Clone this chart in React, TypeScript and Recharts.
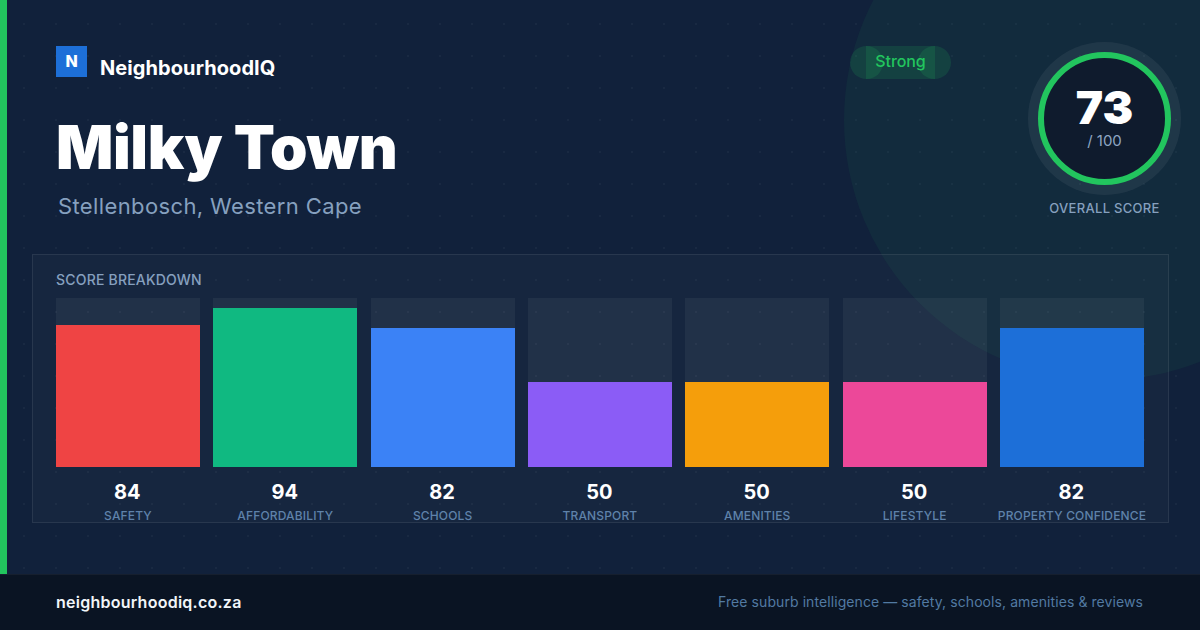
import React from "react";
import { BarChart, Bar, XAxis, YAxis, Cell } from "recharts";

const categories = ["SAFETY", "AFFORDABILITY", "SCHOOLS", "TRANSPORT", "AMENITIES", "LIFESTYLE", "PROPERTY CONFIDENCE"];
const scores = [84, 94, 82, 50, 50, 50, 82];
const barColors = ["#ef4444", "#10b981", "#3b82f6", "#8b5cf6", "#f59e0b", "#ec4899", "#1d6fd8"];
const chartData = categories.map((name, i) => ({ name, score: scores[i] }));

const font = "Inter, sans-serif";

const abs = (left: number, top: number, extra: React.CSSProperties = {}): React.CSSProperties => ({
  position: "absolute",
  left,
  top,
  whiteSpace: "nowrap",
  fontFamily: font,
  ...extra,
});

function ScoreTick({ x, y, payload, index }: any) {
  return (
    <g>
      <text x={x - 0.3} y={y + 26} textAnchor="middle" fill="#ffffff" fontFamily={font} fontSize={20} fontWeight={700}>
        {scores[index]}
      </text>
      <text x={x + 0.3} y={y + 47} textAnchor="middle" fill="#5f82aa" fontFamily={font} fontSize={12} fontWeight={500} letterSpacing={0.16}>
        {payload.value}
      </text>
    </g>
  );
}

export default function App() {
  return (
    <div
      style={{
        position: "fixed",
        left: 0,
        top: 0,
        width: 1200,
        height: 630,
        overflow: "hidden",
        backgroundColor: "#11213b",
        backgroundImage: "radial-gradient(circle at 24px 24px, rgba(255,255,255,0.035) 1.2px, transparent 1.6px)",
        backgroundSize: "32px 32px",
      }}
    >
      <div style={{ position: "absolute", left: 844, top: -140, width: 520, height: 520, borderRadius: "50%", background: "rgba(34,197,94,0.06)" }} />
      <div style={{ position: "absolute", left: 0, top: 0, width: 7, height: 630, background: "#22c55e" }} />

      <div style={abs(56, 46, { width: 31, height: 31, background: "#1d6fd8", color: "#fff", fontSize: 16, fontWeight: 800, textAlign: "center", lineHeight: "31px" })}>N</div>
      <div style={abs(100, 54, { color: "#fff", fontSize: 20, fontWeight: 700, lineHeight: "28px", letterSpacing: 0.08 })}>NeighbourhoodIQ</div>
      <div style={abs(56, 109, { color: "#fff", fontSize: 60, fontWeight: 900, lineHeight: "76px", letterSpacing: -0.4 })}>Milky Town</div>
      <div style={abs(58, 191, { color: "#86a0bf", fontSize: 22, fontWeight: 400, lineHeight: "30px", letterSpacing: 0.38 })}>Stellenbosch, Western Cape</div>

      <div style={{ position: "absolute", left: 850, top: 46, width: 33, height: 33, borderRadius: "50%", background: "rgba(34,197,94,0.15)" }} />
      <div style={{ position: "absolute", left: 918, top: 46, width: 33, height: 33, borderRadius: "50%", background: "rgba(34,197,94,0.15)" }} />
      <div style={{ position: "absolute", left: 866, top: 46, width: 69, height: 33, background: "rgba(34,197,94,0.15)" }} />
      <div style={abs(850, 46, { width: 101, height: 33, lineHeight: "31px", textAlign: "center", color: "#22c55e", fontSize: 16, fontWeight: 500, letterSpacing: -0.1 })}>Strong</div>

      <div style={{ position: "absolute", left: 1028, top: 42, width: 153, height: 153, borderRadius: "50%", background: "rgba(255,255,255,0.06)" }} />
      <div style={{ position: "absolute", left: 1038, top: 52, width: 133, height: 133, borderRadius: "50%", boxSizing: "border-box", border: "6px solid #22c55e", background: "#0f1b2d" }} />
      <div style={abs(1024, 87, { width: 161, textAlign: "center", color: "#fff", fontSize: 46, fontWeight: 900, lineHeight: "40px" })}>73</div>
      <div style={abs(1024, 131, { width: 161, textAlign: "center", color: "#8ea6c2", fontSize: 15, lineHeight: "20px" })}>/ 100</div>
      <div style={abs(1024, 199, { width: 161, textAlign: "center", color: "#86a0bf", fontSize: 13, fontWeight: 500, lineHeight: "18px", letterSpacing: 0.3 })}>OVERALL SCORE</div>

      <div style={{ position: "absolute", left: 32, top: 254, width: 1137, height: 269, boxSizing: "border-box", border: "1px solid rgba(255,255,255,0.08)", background: "rgba(255,255,255,0.025)" }} />
      <div style={abs(56, 271, { color: "#86a0bf", fontSize: 14, fontWeight: 500, lineHeight: "18px", letterSpacing: 0.2 })}>SCORE BREAKDOWN</div>

      <div style={{ position: "absolute", left: 49, top: 298 }}>
        <BarChart width={1101.33} height={232} data={chartData} margin={{ top: 0, right: 0, bottom: 0, left: 0 }} barCategoryGap={0}>
          <YAxis hide domain={[0, 100]} />
          <XAxis dataKey="name" axisLine={false} tickLine={false} height={63.1} interval={0} tick={ScoreTick} tickMargin={0} />
          <Bar dataKey="score" barSize={144} isAnimationActive={false} shapeRendering="crispEdges" background={{ fill: "rgba(255,255,255,0.05)", shapeRendering: "crispEdges" }}>
            {chartData.map((d, i) => (
              <Cell key={d.name} fill={barColors[i]} shapeRendering="crispEdges" />
            ))}
          </Bar>
        </BarChart>
      </div>

      <div style={{ position: "absolute", left: 0, top: 574, width: 1200, height: 56, boxSizing: "border-box", borderTop: "1px solid rgba(255,255,255,0.05)", background: "#0a1423" }} />
      <div style={abs(56, 592, { color: "#f1f5f9", fontSize: 16, fontWeight: 600, lineHeight: "20px", letterSpacing: 0.25 })}>neighbourhoodiq.co.za</div>
      <div style={{ ...abs(0, 592, { color: "#527aa2", fontSize: 14, lineHeight: "20px", letterSpacing: 0.08 }), left: "auto", right: 57 }}>Free suburb intelligence — safety, schools, amenities &amp; reviews</div>
    </div>
  );
}
